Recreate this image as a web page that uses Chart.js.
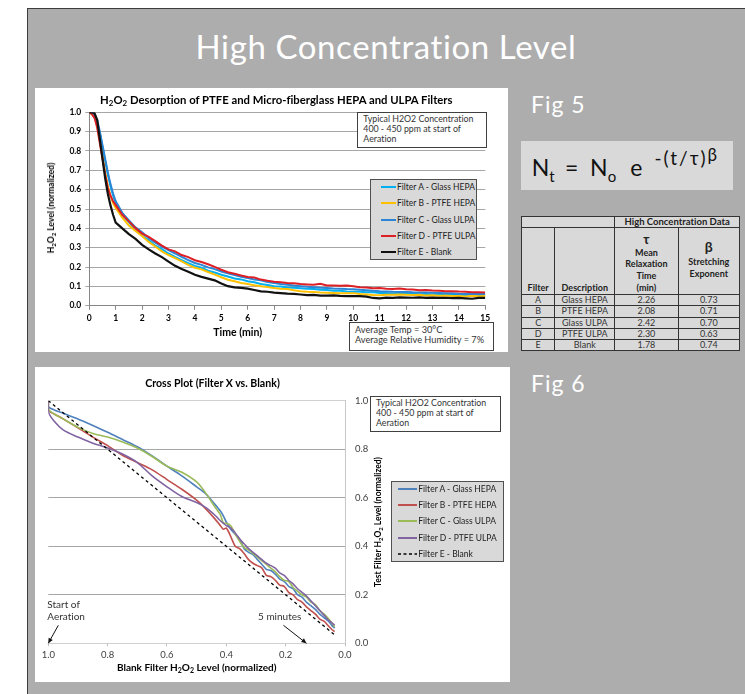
<!DOCTYPE html>
<html><head><meta charset="utf-8">
<script src="https://cdn.jsdelivr.net/npm/chart.js@4.4.1/dist/chart.umd.min.js"></script>
<style>
*{box-sizing:border-box;font-variant-ligatures:none;}
html,body{margin:0;padding:0;width:745px;height:694px;overflow:hidden;background:#fff;font-family:Lato,"Open Sans",sans-serif;}
.a{position:absolute;}
#panel{left:27px;top:8px;width:718px;height:686px;background:#adadad;border-top:1.5px solid #3d3d3d;border-left:1.5px solid #3d3d3d;}
#slideTitle{left:27px;width:718px;top:27px;text-align:center;color:#fff;font-size:33px;line-height:39.6px;letter-spacing:0.6px;white-space:nowrap;}
.fig{color:#fff;font-size:23px;line-height:27.6px;left:531px;letter-spacing:1px;white-space:nowrap;}
#fig5{top:90.6px;}
#fig6{top:370px;}
#formula{left:521px;top:141px;width:212px;height:49px;background:#d9d9d9;}
#ftext{position:absolute;left:10.7px;top:13px;font-size:23px;line-height:27.6px;color:#111;white-space:nowrap;}
#ftext span{display:inline-block;}
.fsub{font-size:15px;position:relative;top:6px;}
.fexp{font-size:19px;position:relative;top:-11px;letter-spacing:2px;}
.fbeta{font-size:17px;position:relative;top:-15px;}
#tbl{position:absolute;left:521px;top:216px;border-collapse:collapse;table-layout:fixed;width:218px;font-size:9px;color:#222;}
#tbl td{border:1px solid #333;background:#d9d9d9;padding:0;text-align:center;line-height:10px;overflow:hidden;white-space:nowrap;}
#tbl td.hb{font-weight:bold;}
#tbl tr.dr td{height:11.3px;color:#333;}
canvas{position:absolute;background:#fff;}
#c1{left:35px;top:88px;}
#c2{left:35px;top:367px;}
.ttl{position:absolute;font-weight:bold;white-space:nowrap;color:#000;transform:translate(-50%,-50%);}
.rot{transform:translate(-50%,-50%) rotate(-90deg);}
.note{position:absolute;background:#fff;border:1px solid #404040;font-size:8.8px;line-height:10px;color:#333;white-space:nowrap;}
.leg{position:absolute;background:#d9d9d9;border:1px solid #505050;color:#222;}
.lrow{position:absolute;display:flex;align-items:center;height:12px;white-space:nowrap;font-size:8.5px;}
.lrow svg{display:block;flex:none;}
sub{font-size:70%;vertical-align:-2px;line-height:0;}
</style>
</head>
<body>
<div id="panel" class="a"></div>
<div id="slideTitle" class="a">High Concentration Level</div>
<div id="fig5" class="a fig">Fig 5</div>
<div id="fig6" class="a fig">Fig 6</div>
<div id="formula" class="a"><div id="ftext"><span>N</span><span class="fsub">t</span><span style="margin-left:10.4px">=</span><span style="margin-left:11.7px">N</span><span class="fsub">o</span><span style="margin-left:14.2px">e</span><span class="fexp" style="margin-left:12px">-(t/τ)</span><span class="fbeta">β</span></div></div>
<table id="tbl"><colgroup><col style="width:33.3px"><col style="width:60px"><col style="width:63.3px"><col style="width:61.4px"></colgroup><tbody id="tbody"></tbody></table>

<canvas id="c1" width="473" height="264"></canvas>
<canvas id="c2" width="475" height="315"></canvas>

<div class="ttl" style="left:276.3px;top:99px;font-size:11.3px;">H<sub>2</sub>O<sub>2</sub> Desorption of PTFE and Micro-fiberglass HEPA and ULPA Filters</div>
<div class="ttl rot" style="left:50.7px;top:208.3px;font-size:8.5px;">H<sub>2</sub>O<sub>2</sub> Level (normalized)</div>
<div class="ttl" style="left:237.7px;top:332.3px;font-size:10.5px;">Time (min)</div>
<div class="note" style="left:357px;top:112px;width:130px;height:36px;padding:1.3px 0 0 5.3px;">Typical H2O2 Concentration<br>400 - 450 ppm at start of<br>Aeration</div>
<div class="leg" id="leg1" style="left:370px;top:179px;width:107px;height:81px;"></div>
<div class="note" style="left:349px;top:322px;width:145px;height:29px;padding:2px 0 0 5px;font-size:9.2px;">Average Temp = 30°C<br>Average Relative Humidity = 7%</div>

<div class="ttl" style="left:212.5px;top:383px;font-size:10.6px;">Cross Plot (Filter X vs. Blank)</div>
<div class="ttl rot" style="left:378px;top:522px;font-size:8.5px;">Test Filter H<sub>2</sub>O<sub>2</sub> Level (normalized)</div>
<div class="ttl" style="left:196.7px;top:667px;font-size:10px;">Blank Filter H<sub>2</sub>O<sub>2</sub> Level (normalized)</div>
<div class="note" style="left:370px;top:395.7px;width:130.7px;height:36.6px;padding:1.7px 0 0 5px;">Typical H2O2 Concentration<br>400 - 450 ppm at start of<br>Aeration</div>
<div class="leg" id="leg2" style="left:390.7px;top:480.7px;width:113.6px;height:81.6px;"></div>

<script>
// ---------- Fig 5: desorption curves (time in minutes, normalized H2O2 level) ----------
const timeMin = [0,0.1,0.2,0.3,0.4,0.5,0.6,0.7,0.8,0.9,1,1.25,1.5,1.75,2,2.25,2.5,2.75,3,3.25,3.5,3.75,4,4.25,4.5,4.75,5,5.25,5.5,5.75,6,6.25,6.5,6.75,7,7.25,7.5,7.75,8,8.25,8.5,8.75,9,9.25,9.5,9.75,10,10.25,10.5,10.75,11,11.25,11.5,11.75,12,12.25,12.5,12.75,13,13.25,13.5,13.75,14,14.25,14.5,14.75,15];
const filterA_glassHEPA = [1.000,0.995,0.980,0.950,0.890,0.820,0.750,0.680,0.620,0.570,0.530,
 0.470,0.432,0.393,0.362,0.338,0.310,0.292,0.270,0.252,0.236,0.220,0.206,0.197,0.181,0.172,0.160,0.151,0.141,0.136,0.126,0.121,0.112,0.107,0.101,0.099,0.094,0.093,0.090,0.087,0.086,0.082,0.081,0.077,0.077,0.073,0.072,0.072,0.069,0.069,0.066,0.066,0.063,0.064,0.061,0.062,0.059,0.061,0.058,0.059,0.057,0.058,0.055,0.056,0.053,0.055,0.053];
const filterB_ptfeHEPA = [1.000,0.990,0.975,0.930,0.850,0.770,0.690,0.620,0.570,0.530,0.505,
 0.455,0.415,0.387,0.360,0.330,0.306,0.281,0.262,0.246,0.229,0.211,0.196,0.188,0.174,0.161,0.147,0.134,0.126,0.117,0.112,0.106,0.101,0.096,0.091,0.088,0.086,0.080,0.075,0.072,0.071,0.068,0.067,0.066,0.064,0.064,0.065,0.061,0.058,0.055,0.054,0.057,0.056,0.058,0.057,0.055,0.056,0.053,0.054,0.051,0.053,0.050,0.050,0.048,0.051,0.049,0.050];
const filterC_glassULPA = [1.000,0.995,0.985,0.960,0.900,0.830,0.760,0.690,0.630,0.580,0.540,
 0.480,0.441,0.405,0.380,0.350,0.326,0.305,0.287,0.270,0.252,0.236,0.221,0.211,0.198,0.189,0.177,0.167,0.159,0.150,0.143,0.136,0.131,0.122,0.117,0.112,0.108,0.104,0.101,0.098,0.096,0.093,0.091,0.089,0.088,0.086,0.085,0.082,0.080,0.077,0.075,0.074,0.072,0.071,0.071,0.069,0.068,0.068,0.067,0.066,0.064,0.064,0.062,0.061,0.061,0.060,0.060];
const filterD_ptfeULPA = [1.000,0.990,0.970,0.920,0.840,0.760,0.680,0.610,0.570,0.540,0.520,
 0.470,0.436,0.401,0.373,0.356,0.334,0.311,0.291,0.281,0.262,0.251,0.235,0.226,0.214,0.201,0.186,0.173,0.165,0.156,0.148,0.146,0.135,0.129,0.124,0.121,0.118,0.116,0.112,0.110,0.108,0.113,0.105,0.104,0.103,0.104,0.100,0.096,0.094,0.090,0.091,0.088,0.086,0.089,0.085,0.084,0.080,0.081,0.078,0.077,0.075,0.075,0.073,0.072,0.070,0.070,0.068];
const filterE_blank = [1.000,1.000,0.995,0.960,0.860,0.760,0.660,0.580,0.520,0.470,0.430,
 0.400,0.370,0.345,0.315,0.291,0.270,0.251,0.228,0.206,0.190,0.176,0.160,0.149,0.140,0.131,0.115,0.101,0.095,0.092,0.088,0.081,0.074,0.072,0.068,0.065,0.062,0.061,0.058,0.055,0.056,0.052,0.052,0.053,0.051,0.050,0.050,0.049,0.047,0.040,0.038,0.042,0.040,0.043,0.042,0.041,0.043,0.040,0.042,0.040,0.041,0.039,0.040,0.038,0.036,0.040,0.040];
const seriesNames = ['Filter A - Glass HEPA','Filter B - PTFE HEPA','Filter C - Glass ULPA','Filter D - PTFE ULPA','Filter E - Blank'];
const yTicksFig5 = [0,0.1,0.2,0.3,0.4,0.5,0.6,0.7,0.8,0.9,1.0];
const xTicksFig5 = [0,1,2,3,4,5,6,7,8,9,10,11,12,13,14,15];

// ---------- Fig 5 table ----------
const tableFilters = ['A','B','C','D','E'];
const tableDescriptions = ['Glass HEPA','PTFE HEPA','Glass ULPA','PTFE ULPA','Blank'];
const tableTau = ['2.26','2.08','2.42','2.30','1.78'];
const tableBeta = ['0.73','0.71','0.70','0.63','0.74'];

// ---------- Fig 6: cross plot (blank level on x, filter level on y) ----------
const blankLevel = [1.0,1.0,0.98,0.95,0.9,0.85,0.8,0.75,0.7,0.65,0.6,0.55,0.5,0.47,0.44,0.42,0.41,0.40,0.385,0.37,0.355,0.34,0.325,0.31,0.295,0.28,0.265,0.25,0.235,0.22,0.205,0.19,0.175,0.16,0.145,0.13,0.115,0.10,0.085,0.07,0.055,0.045,0.035];
const crossA_glassHEPA = [1.0,0.975,0.962,0.948,0.925,0.898,0.870,0.840,0.810,0.772,0.730,0.690,0.645,0.617,0.575,0.545,0.525,0.500,0.470,0.450,0.430,0.390,0.375,0.365,0.345,0.325,0.305,0.300,0.285,0.265,0.255,0.235,0.225,0.200,0.190,0.170,0.155,0.140,0.120,0.105,0.090,0.075,0.062];
const crossB_ptfeHEPA = [1.0,0.960,0.945,0.925,0.888,0.850,0.815,0.775,0.745,0.715,0.675,0.635,0.590,0.555,0.515,0.485,0.470,0.475,0.440,0.400,0.390,0.370,0.345,0.330,0.320,0.310,0.280,0.275,0.260,0.240,0.235,0.210,0.200,0.180,0.170,0.150,0.135,0.120,0.100,0.090,0.070,0.058,0.048];
const crossC_glassULPA = [1.0,0.965,0.945,0.925,0.890,0.865,0.850,0.830,0.805,0.770,0.730,0.705,0.665,0.620,0.565,0.530,0.495,0.495,0.485,0.450,0.420,0.395,0.385,0.370,0.355,0.340,0.325,0.310,0.295,0.275,0.260,0.255,0.230,0.215,0.200,0.190,0.170,0.160,0.135,0.120,0.100,0.085,0.068];
const crossD_ptfeULPA = [1.0,0.955,0.915,0.880,0.850,0.825,0.805,0.780,0.745,0.690,0.645,0.605,0.580,0.560,0.530,0.505,0.495,0.485,0.475,0.455,0.430,0.410,0.390,0.375,0.360,0.345,0.330,0.320,0.310,0.290,0.280,0.260,0.245,0.225,0.210,0.195,0.175,0.155,0.135,0.115,0.095,0.085,0.075];
const xTicksFig6 = [1.0,0.8,0.6,0.4,0.2,0.0];
const yTicksFig6 = [0.0,0.2,0.4,0.6,0.8,1.0];

// ---------- styles (kept separate from data) ----------
const fig5Colors = ['#00b0f0','#ffc000','#2a86d4','#dd1f26','#111111'];
const fig6Colors = ['#4f81bd','#c0504d','#9bbb59','#8064a2','#000000'];

Chart.defaults.font.family = 'Lato';

// table
(function(){
  const tb = document.getElementById('tbody');
  let h = '<tr style="height:11px"><td colspan="2"></td><td colspan="2" class="hb" style="font-size:9.5px">High Concentration Data</td></tr>';
  h += '<tr style="height:67px">'+
    '<td class="hb" style="vertical-align:bottom;padding-bottom:1px">Filter</td>'+
    '<td class="hb" style="vertical-align:bottom;padding-bottom:1px">Description</td>'+
    '<td class="hb" style="vertical-align:bottom;line-height:11.7px;padding-bottom:0.5px"><span style="font-size:13px">τ</span><br>Mean<br>Relaxation<br>Time<br>(min)</td>'+
    '<td class="hb" style="vertical-align:top;line-height:12.5px;padding-top:13px"><span style="font-size:14px">β</span><br>Stretching<br>Exponent</td></tr>';
  for (let i=0;i<tableFilters.length;i++){
    h += '<tr class="dr"><td>'+tableFilters[i]+'</td><td>'+tableDescriptions[i]+'</td><td>'+tableTau[i]+'</td><td>'+tableBeta[i]+'</td></tr>';
  }
  tb.innerHTML = h;
})();

const fig5Series = [filterA_glassHEPA, filterB_ptfeHEPA, filterC_glassULPA, filterD_ptfeULPA, filterE_blank];
const tickFontBold = {family:'Lato', size:8.5, weight:'bold'};

const chart5 = new Chart(document.getElementById('c1'), {
  type:'line',
  data:{datasets: seriesNames.map((name,i)=>({
    label:name,
    data: timeMin.map((t,k)=>({x:t, y:fig5Series[i][k]})),
    borderColor:fig5Colors[i], backgroundColor:fig5Colors[i],
    borderWidth: i===4 ? 2.2 : 2, pointRadius:0, tension:0, fill:false, order:5-i
  }))},
  options:{
    responsive:false, animation:false, events:[], devicePixelRatio:1,
    layout:{padding:{top:24.3,right:22.7,left:0,bottom:0}},
    plugins:{legend:{display:false}, tooltip:{enabled:false}, title:{display:false}},
    scales:{
      x:{type:'linear', min:0, max:15,
        afterBuildTicks(s){ s.ticks = xTicksFig5.map(v=>({value:v})); },
        ticks:{font:tickFontBold, color:'#000', padding:3, maxRotation:0, autoSkip:false},
        grid:{drawOnChartArea:false, drawTicks:true, tickLength:4, color:'#868686'},
        border:{color:'#868686', width:1},
        afterFit(s){ s.height = 46.3; }},
      y:{min:0, max:1,
        afterBuildTicks(s){ s.ticks = yTicksFig5.map(v=>({value:v})); },
        ticks:{font:tickFontBold, color:'#000', padding:4, callback:v=>Number(v).toFixed(1)},
        grid:{color:'#a6a6a6', tickLength:4},
        border:{color:'#868686', width:1},
        afterFit(s){ s.width = 54.3; }}
    }
  }
});

const fig6Series = [crossA_glassHEPA, crossB_ptfeHEPA, crossC_glassULPA, crossD_ptfeULPA];
const fig6Datasets = fig6Series.map((arr,i)=>({
  label:seriesNames[i],
  data: blankLevel.map((b,k)=>({x:b, y:arr[k]})),
  borderColor:fig6Colors[i], backgroundColor:fig6Colors[i],
  borderWidth:1.6, pointRadius:0, tension:0.3, fill:false, order:5-i
}));
fig6Datasets.push({
  label:seriesNames[4],
  data: blankLevel.map(b=>({x:b, y:b})),
  borderColor:fig6Colors[4], backgroundColor:fig6Colors[4],
  borderWidth:1.3, borderDash:[3,3], pointRadius:0, tension:0, fill:false, order:0
});

const arrowNotes = [
  {lines:['Start of','Aeration'], tip:1.0, dx:10, dy:-18, textDx:-1},
  {lines:['5 minutes'], tip:0.13, dx:-23, dy:-18, textDx:-48.4}
];
const crossNotes = {
  id:'crossNotes',
  afterDraw(chart){
    const {ctx, scales:{x,y}} = chart;
    ctx.save();
    ctx.lineWidth = 1;
    for (const n of arrowNotes){
      const tx = x.getPixelForValue(n.tip), ty = y.getPixelForValue(0);
      const sx = tx + n.dx, sy = ty + n.dy;
      ctx.strokeStyle = '#111'; ctx.fillStyle = '#111';
      ctx.beginPath(); ctx.moveTo(sx, sy); ctx.lineTo(tx, ty); ctx.stroke();
      const ang = Math.atan2(ty - sy, tx - sx), L = 5, W = 2.4;
      ctx.beginPath();
      ctx.moveTo(tx, ty);
      ctx.lineTo(tx - L*Math.cos(ang) + W*Math.sin(ang), ty - L*Math.sin(ang) - W*Math.cos(ang));
      ctx.lineTo(tx - L*Math.cos(ang) - W*Math.sin(ang), ty - L*Math.sin(ang) + W*Math.cos(ang));
      ctx.closePath(); ctx.fill();
      ctx.fillStyle = '#333';
      ctx.font = '10px Lato'; ctx.textAlign = 'left'; ctx.textBaseline = 'middle';
      const n0 = n.lines.length;
      n.lines.forEach((ln,j)=>{ ctx.fillText(ln, tx + n.textDx, ty - 26.3 - (n0-1-j)*12); });
    }
    ctx.restore();
  }
};

const chart6 = new Chart(document.getElementById('c2'), {
  type:'line',
  data:{datasets:fig6Datasets},
  options:{
    responsive:false, animation:false, events:[], devicePixelRatio:1,
    layout:{padding:{left:13.3, right:133.3, top:33.7, bottom:0}},
    plugins:{legend:{display:false}, tooltip:{enabled:false}, title:{display:false}},
    scales:{
      x:{type:'linear', reverse:true, min:0, max:1,
        afterBuildTicks(s){ s.ticks = xTicksFig6.map(v=>({value:v})); },
        ticks:{font:{family:'Lato', size:9.5}, color:'#404040', padding:3, maxRotation:0, autoSkip:false, callback:v=>Number(v).toFixed(1)},
        grid:{drawOnChartArea:false, drawTicks:true, tickLength:3, color:'#bfbfbf'},
        border:{color:'#d0d0d0', width:1},
        afterFit(s){ s.height = 38.7; }},
      y:{position:'right', min:0, max:1,
        afterBuildTicks(s){ s.ticks = yTicksFig6.map(v=>({value:v})); },
        ticks:{font:{family:'Lato', size:9.5}, color:'#404040', padding:10, callback:v=>Number(v).toFixed(1)},
        grid:{drawTicks:false, color:c=> (c.tick && c.tick.value===1) ? '#d0d0d0' : (c.tick && c.tick.value===0 ? 'rgba(0,0,0,0)' : '#a6a6a6')},
        border:{color:'#c8c8c8', width:1},
        afterFit(s){ s.width = 31.7; }}
    }
  },
  plugins:[crossNotes]
});

// HTML legends generated from the chart datasets
function buildLegend(elId, chart, firstCenter, spacing, sampleLeft, sampleW){
  const el = document.getElementById(elId);
  chart.data.datasets.forEach((ds,k)=>{
    const row = document.createElement('div');
    row.className = 'lrow';
    row.style.left = sampleLeft + 'px';
    row.style.top = (firstCenter - 1 - 6 + k*spacing) + 'px';
    const dash = ds.borderDash ? ' stroke-dasharray="3,2.5"' : '';
    row.innerHTML = '<svg width="'+sampleW+'" height="6"><line x1="0" y1="3" x2="'+sampleW+'" y2="3" stroke="'+ds.borderColor+'" stroke-width="'+(ds.borderDash?1.6:2)+'"'+dash+'/></svg><span style="margin-left:1px">'+ds.label+'</span>';
    el.appendChild(row);
  });
}
buildLegend('leg1', chart5, 7.7, 16.4, 9.7, 15.3);
buildLegend('leg2', chart6, 8.3, 16.2, 6.6, 19);
</script>
</body></html>
